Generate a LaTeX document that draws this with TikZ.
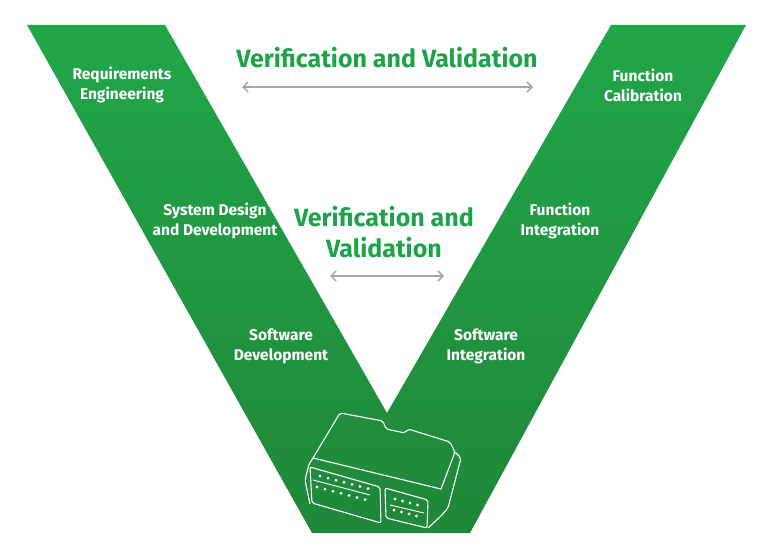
\documentclass[tikz,border=0pt]{standalone}
\usepackage{fontspec}
\setmainfont{Fira Sans}
\usetikzlibrary{arrows.meta}
\definecolor{vgreen}{HTML}{22A64A}
\definecolor{vlight}{HTML}{2DB954}
\definecolor{vdark}{HTML}{1F8739}
\definecolor{vtitle}{HTML}{1FA34A}
\definecolor{vgray}{HTML}{A6A6A6}
\tikzset{
  stage/.style={text=white,font=\bfseries\fontsize{15.5}{20}\selectfont,align=center},
  vvtitle/.style={text=vtitle,font=\bfseries\fontsize{25}{31}\selectfont,align=center},
  vvarrow/.style={draw=vgray,line width=1.5pt,{Straight Barb[length=5pt,width=10pt]}-{Straight Barb[length=5pt,width=10pt]}},
  ecu/.style={draw=white,line width=1.1pt,rounded corners=2pt},
  pin/.style={fill=white,circle,inner sep=0pt,minimum size=3.2pt}
}
\begin{document}
\begin{tikzpicture}[x=1pt,y=-1pt]
\useasboundingbox (0,0) rectangle (768,559);
% the V
\shade[top color=vgreen,middle color=vlight,bottom color=vdark]
  (27,25) -- (165,25) -- (387,413) -- (611,25) -- (746,25) -- (470,533) -- (312,533) -- cycle;
% stage labels
\node[stage] (req) at (122,85) {Requirements\\Engineering};
\node[stage] (sys) at (215,221) {System Design\\and Development};
\node[stage] (swd) at (281,346) {Software\\Development};
\node[stage] (fcal) at (643,85) {Function\\Calibration};
\node[stage] (fint) at (560,221) {Function\\Integration};
\node[stage] (swi) at (486,346) {Software\\Integration};
% verification and validation
\node[vvtitle] (vv1) at (387,58) {Verification and Validation};
\coordinate (a1l) at (242,87);
\coordinate (a1r) at (533,87);
\draw[vvarrow] (a1l) -- (a1r);
\node[vvtitle] (vv2) at (384,232) {Verification and\\Validation};
\coordinate (a2l) at (330,276);
\coordinate (a2r) at (444,276);
\draw[vvarrow] (a2l) -- (a2r);
% control unit
\draw[ecu] (313,458) -- (340,413) -- (383,421) -- (386,429) -- (405,433) -- (408,429) -- (450,442) -- (455,452) -- (441,489);
\draw[ecu] (455,452) -- (461,458) -- (448,508) -- (441,516) -- (428,528);
\draw[ecu] (313,458) -- (441,489);
\draw[ecu] (313,458) -- (309,464) -- (305,480) -- (310,504);
\draw[ecu] (310,467) -- (380,487) -- (381,523) -- (312,503) -- cycle;
\draw[ecu] (385,488) -- (428,500) -- (427,528) -- (386,518) -- cycle;
\draw[white,line width=0.9pt] (313,480) -- (370,495);
\draw[white,line width=0.9pt] (390,505) -- (424,513);
\foreach \i in {0,...,6} {
  \node[pin] at (320+8*\i,476+2.1*\i) {};
  \node[pin] at (317+8*\i,487+2.1*\i) {};
}
\foreach \i in {0,...,3} {
  \node[pin] at (395+7.5*\i,499+2*\i) {};
  \node[pin] at (394+7.5*\i,510+2*\i) {};
}
\end{tikzpicture}
\end{document}
